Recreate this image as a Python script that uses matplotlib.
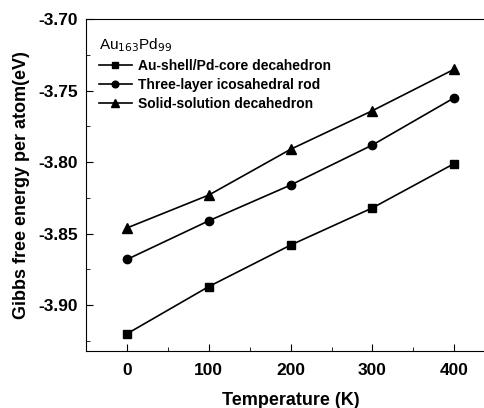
import numpy as np
import matplotlib
matplotlib.use('Agg')
import matplotlib.pyplot as plt
from matplotlib.ticker import MultipleLocator

plt.rcParams['font.family'] = ['Liberation Sans', 'DejaVu Sans']

temperature = [0, 100, 200, 300, 400]
core_shell = [-3.920, -3.887, -3.858, -3.832, -3.801]
icosahedral = [-3.868, -3.841, -3.816, -3.788, -3.755]
solid_solution = [-3.846, -3.823, -3.791, -3.764, -3.735]
labels = ['Au-shell/Pd-core decahedron', 'Three-layer icosahedral rod', 'Solid-solution decahedron']

fig = plt.figure(figsize=(4.84, 4.08), dpi=100)
ax = fig.add_axes([0.178, 0.140, 0.845, 0.813])

ax.plot(temperature, core_shell, 'k-s', lw=1.2, ms=6, label=labels[0])
ax.plot(temperature, icosahedral, 'k-o', lw=1.2, ms=6, label=labels[1])
ax.plot(temperature, solid_solution, 'k-^', lw=1.2, ms=6.5, label=labels[2])

ax.set_xlim(-50, 450)
ax.set_ylim(-3.932, -3.70)
ax.xaxis.set_major_locator(MultipleLocator(100))
ax.xaxis.set_minor_locator(MultipleLocator(50))
ax.yaxis.set_major_locator(MultipleLocator(0.05))
ax.yaxis.set_minor_locator(MultipleLocator(0.025))
ax.yaxis.set_major_formatter(matplotlib.ticker.FormatStrFormatter('%.2f'))
ax.tick_params(which='both', direction='in')
ax.tick_params(which='major', length=5, labelsize=12.5, pad=6)
ax.tick_params(which='minor', length=3)
ax.tick_params(axis='x', pad=9)
for lab in ax.get_xticklabels() + ax.get_yticklabels():
    lab.set_fontweight('bold')

ax.set_xlabel('Temperature (K)', fontsize=13, fontweight='bold', labelpad=10)
ax.set_ylabel('Gibbs free energy per atom(eV)', fontsize=13, fontweight='bold', labelpad=6)

# legend handles: short line with a small marker in the middle
handles, _ = ax.get_legend_handles_labels()
leg = ax.legend(title='Au$_{163}$Pd$_{99}$', loc='upper left', frameon=False,
                bbox_to_anchor=(0.0, 0.985),
                prop={'weight': 'bold', 'size': 10}, handlelength=2.4,
                labelspacing=0.35, borderaxespad=0.5, handletextpad=0.4,
                markerscale=0.8)
leg.get_title().set_fontsize(11)
leg._legend_box.align = 'left'

fig.savefig('out.png', dpi=100)
